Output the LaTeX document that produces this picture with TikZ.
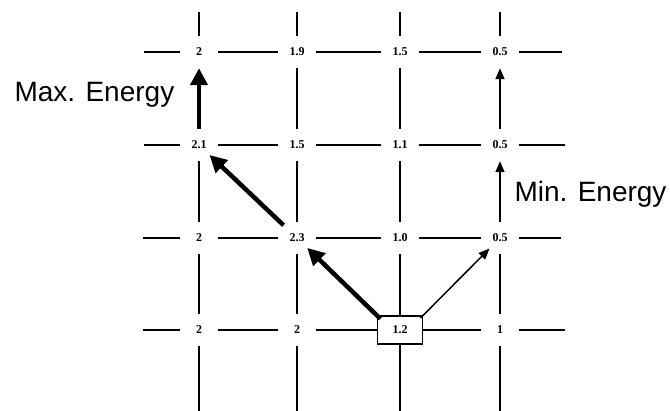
\documentclass[tikz,border=0pt]{standalone}
\usepackage{fontspec}
\setmainfont{Liberation Serif}
\newfontfamily\labelfont{Liberation Sans}
\usetikzlibrary{arrows.meta}

\tikzset{
    val/.style={minimum width=38pt, minimum height=32pt, inner sep=0pt,
        font=\fontsize{12}{12}\selectfont\bfseries},
    valbox/.style={val, draw, line width=1.4pt, minimum width=45pt, minimum height=28pt},
    gridline/.style={line width=1.7pt},
    bigarrow/.style={line width=4.5pt, -{Triangle[length=17pt,width=17pt]}},
    smallarrow/.style={line width=1.5pt, -{Triangle[length=11pt,width=9pt]}},
    energy/.style={font=\labelfont\fontsize{28}{30}\selectfont}
}

\begin{document}
\begin{tikzpicture}[x=1pt, y=-1pt]

    \useasboundingbox (0,0) rectangle (670,411);

    % 格子点の値 (行1〜4, 列1〜4)
    \node[val] (p11) at (199,52) {2};
    \node[val] (p12) at (297,52) {1.9};
    \node[val] (p13) at (400,52) {1.5};
    \node[val] (p14) at (500,52) {0.5};

    \node[val] (p21) at (199,145) {2.1};
    \node[val] (p22) at (297,145) {1.5};
    \node[val] (p23) at (400,145) {1.1};
    \node[val] (p24) at (500,145) {0.5};

    \node[val] (p31) at (199,238) {2};
    \node[val] (p32) at (297,238) {2.3};
    \node[val] (p33) at (400,238) {1.0};
    \node[val] (p34) at (500,238) {0.5};

    \node[val] (p41) at (199,330) {2};
    \node[val] (p42) at (297,330) {2};
    \node[valbox] (p43) at (400,330) {1.2};
    \node[val] (p44) at (500,330) {1};

    % 格子線の端
    \coordinate (l1) at (144,52);
    \coordinate (l2) at (144,145);
    \coordinate (l3) at (143,238);
    \coordinate (l4) at (143,330);
    \coordinate (r1) at (562,52);
    \coordinate (r2) at (565,145);
    \coordinate (r3) at (561,238);
    \coordinate (r4) at (565,330);
    \coordinate (t1) at (199,12);
    \coordinate (t2) at (297,12);
    \coordinate (t3) at (400,12);
    \coordinate (t4) at (500,12);
    \coordinate (b1) at (199,411);
    \coordinate (b2) at (297,411);
    \coordinate (b3) at (400,411);
    \coordinate (b4) at (500,411);

    % 横の格子線
    \draw[gridline] (l1) -- (p11) -- (p12) -- (p13) -- (p14) -- (r1);
    \draw[gridline] (l2) -- (p21) -- (p22) -- (p23) -- (p24) -- (r2);
    \draw[gridline] (l3) -- (p31) -- (p32) -- (p33) -- (p34) -- (r3);
    \draw[gridline] (l4) -- (p41) -- (p42) -- (p43) -- (p44) -- (r4);

    % 縦の格子線
    \draw[gridline] (t1) -- (p11);
    \draw[gridline] (p21) -- (p31) -- (p41) -- (b1);
    \draw[gridline] (t2) -- (p12) -- (p22) -- (p32) -- (p42) -- (b2);
    \draw[gridline] (t3) -- (p13) -- (p23) -- (p33) -- (p43) -- (b3);
    \draw[gridline] (t4) -- (p14);
    \draw[gridline] (p34) -- (p44) -- (b4);

    % エネルギー最大の経路
    \draw[bigarrow, shorten <=-5pt, shorten >=-9pt] (p43.north west) -- (p32);
    \draw[bigarrow, shorten <=-5pt, shorten >=-9pt] (p32) -- (p21);
    \draw[bigarrow] (p21) -- (p11);

    % エネルギー最小の経路
    \draw[smallarrow, shorten <=-4pt, shorten >=-8pt] (p43.north east) -- (p34);
    \draw[smallarrow] (p34) -- (p24);
    \draw[smallarrow] (p24) -- (p14);

    % ラベル
    \node[energy, anchor=base west] (maxlbl) at (11,102) {Max. Energy};
    \node[energy, anchor=base west] (minlbl) at (511,202) {Min. Energy};

\end{tikzpicture}
\end{document}
